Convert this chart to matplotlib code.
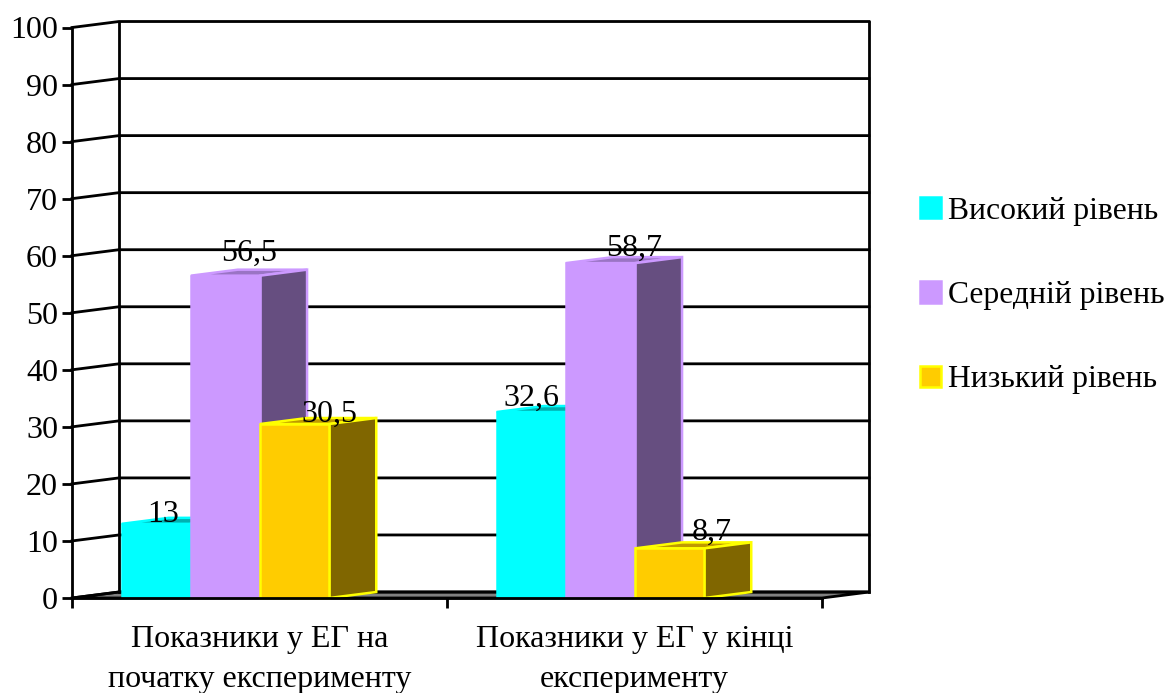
import matplotlib
matplotlib.use('Agg')
import matplotlib.pyplot as plt
from matplotlib.patches import Patch, Polygon

plt.rcParams['font.family'] = ['Liberation Serif', 'DejaVu Serif']

categories = ['Показники у ЕГ на\nпочатку експерименту', 'Показники у ЕГ у кінці\nексперименту']
series_names = ['Високий рівень', 'Середній рівень', 'Низький рівень']
high = [13, 32.6]
medium = [56.5, 58.7]
low = [30.5, 8.7]
value_labels = [['13', '32,6'], ['56,5', '58,7'], ['30,5', '8,7']]
yticks = list(range(0, 101, 10))

# front, top, side, edge
colors = [('#00ffff', '#00b0b0', '#008080', '#00ffff'),
          ('#cc99ff', '#9a74c4', '#664e80', '#cc99ff'),
          ('#ffcc00', '#bf9900', '#806600', '#ffff00')]

# label offsets from the top front centre of each bar, in points
label_shift = [[(5, 1.5), (0, 4.5)], [(17, 11), (24, 5)], [(25, 1.5), (30, 6)]]

W, H = 1167, 693
DPI = 100
px = 72 / DPI
line = 2.8 * px
size = 23

bar_w = 0.1845
bar_start = 0.1325
dx = 47 / 375    # depth of the box in category units
dy = 1.05        # depth of the box in value units

fig = plt.figure(figsize=(W / DPI, H / DPI), dpi=DPI)
ax = fig.add_axes([72 / W, (H - 598) / H, 750 / W, 570.5 / H])
ax.set_xlim(0, 2)
ax.set_ylim(0, 100)
for name in ['top', 'right']:
    ax.spines[name].set_visible(False)
for name in ['left', 'bottom']:
    ax.spines[name].set_linewidth(line)
    ax.spines[name].set_zorder(20)

ax.set_yticks(yticks)
ax.set_xticks([0, 1, 2])
ax.set_xticklabels([])
ax.set_xticks([0.5, 1.5], minor=True)
ax.set_xticklabels(categories, minor=True, fontsize=size, linespacing=1.5)
ax.tick_params(axis='y', length=10 * px, width=line, pad=4 * px, labelsize=size)
ax.tick_params(axis='x', which='major', length=10 * px, width=line)
ax.tick_params(axis='x', which='minor', length=0, pad=19.3)

# floor of the box
ax.add_patch(Polygon([(0, 0), (dx, dy), (2 + dx, dy), (2, 0)], closed=True, facecolor='#808080',
                     edgecolor='black', linewidth=line, clip_on=False, zorder=1))

# walls and gridlines
for v in yticks:
    ax.plot([0, dx, 2 + dx], [v, v + dy, v + dy], color='black', lw=line, clip_on=False, zorder=2)
ax.plot([dx, dx], [dy, 100 + dy], color='black', lw=line, clip_on=False, zorder=2)
ax.plot([2 + dx, 2 + dx], [dy, 100 + dy], color='black', lw=line, clip_on=False, zorder=2)

# bars are built from three faces so they read as boxes
z = 3
for s, values in enumerate([high, medium, low]):
    front, top, side, edge = colors[s]
    for c, v in enumerate(values):
        x0 = c + bar_start + s * bar_w
        x1 = x0 + bar_w
        faces = [([(x0, v), (x0 + dx, v + dy), (x1 + dx, v + dy), (x1, v)], top),
                 ([(x1, 0), (x1 + dx, dy), (x1 + dx, v + dy), (x1, v)], side),
                 ([(x0, 0), (x0, v), (x1, v), (x1, 0)], front)]
        for pts, col in faces:
            ax.add_patch(Polygon(pts, closed=True, facecolor=col, edgecolor=edge, linewidth=1.8,
                                 joinstyle='miter', clip_on=False, zorder=z))
        ax.annotate(value_labels[s][c], xy=((x0 + x1) / 2, v), xytext=label_shift[s][c],
                    textcoords='offset points', ha='center', va='baseline',
                    fontsize=size, color='black', annotation_clip=False, zorder=30)
    z += 1

handles = [Patch(facecolor=col[0], edgecolor=col[3], linewidth=1.8) for col in colors]
fig.legend(handles, series_names, loc='center left', bbox_to_anchor=(920 / W, 1 - 295.5 / H),
           frameon=False, fontsize=22.8, handlelength=0.66, handleheight=0.66, handletextpad=0.23,
           labelspacing=1.75, borderpad=0, borderaxespad=0)

fig.savefig('out.png', dpi=DPI)
